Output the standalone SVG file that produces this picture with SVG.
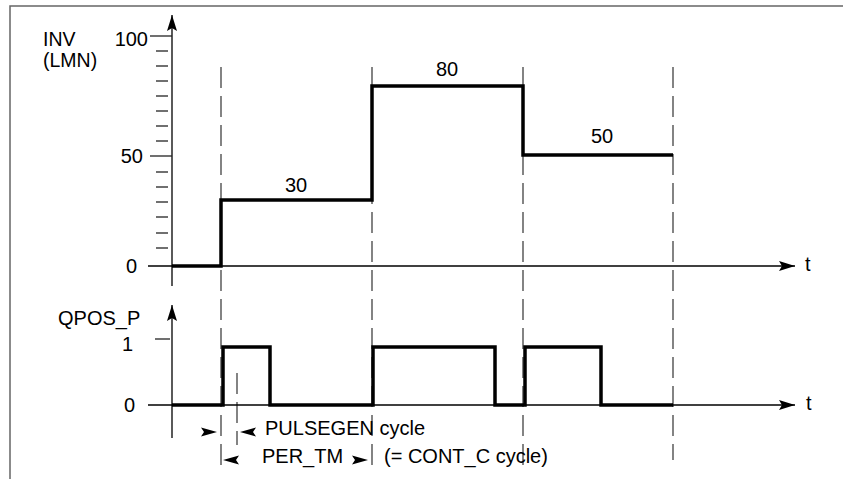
<svg xmlns="http://www.w3.org/2000/svg" width="843" height="479" viewBox="0 0 843 479">
<style>
text{font-family:"Liberation Sans",Arial,sans-serif;font-size:20px;fill:#000}
.axis{stroke:#000;stroke-width:1.3;fill:none}
.tick{stroke:#222;stroke-width:1.3;fill:none}
.dash{stroke:#333;stroke-width:1.2;stroke-dasharray:21 8;fill:none}
.sig{stroke:#000;stroke-width:3.5;fill:none;stroke-linejoin:miter}
.ah{fill:#000;stroke:none}
</style>
<defs>
<marker id="arr" markerUnits="userSpaceOnUse" markerWidth="20" markerHeight="12" refX="0" refY="0" orient="auto" overflow="visible">
<path d="M0,0 L-16,-5 L-13,0 L-16,5 Z" fill="#000"/>
</marker>
</defs>
<g id="frame">
<path d="M10,479 L10,6 L843,6" stroke="#666" stroke-width="1.5" fill="none"/>
</g>
<g id="connectors">
<line class="dash" x1="221" y1="67" x2="221" y2="467"/>
<line class="dash" x1="372" y1="67" x2="372" y2="467"/>
<line class="dash" x1="523" y1="67" x2="523" y2="465"/>
<line class="dash" x1="673" y1="67" x2="673" y2="460"/>
<line class="dash" x1="237" y1="373" x2="237" y2="445"/>
</g>
<g id="upper-chart">
<line class="axis" x1="172" y1="286" x2="172" y2="15" marker-end="url(#arr)"/>
<line class="axis" x1="148" y1="266" x2="795" y2="266" marker-end="url(#arr)"/>
<line class="tick" x1="150" y1="36" x2="172" y2="36"/>
<line class="tick" x1="150" y1="156" x2="172" y2="156"/>
<g class="tick">
<line x1="156" y1="51" x2="168" y2="51"/>
<line x1="156" y1="66" x2="168" y2="66"/>
<line x1="156" y1="81" x2="168" y2="81"/>
<line x1="156" y1="96" x2="168" y2="96"/>
<line x1="156" y1="111" x2="168" y2="111"/>
<line x1="156" y1="126" x2="168" y2="126"/>
<line x1="156" y1="141" x2="168" y2="141"/>
<line x1="156" y1="172" x2="168" y2="172"/>
<line x1="156" y1="187" x2="168" y2="187"/>
<line x1="156" y1="202" x2="168" y2="202"/>
<line x1="156" y1="217" x2="168" y2="217"/>
<line x1="156" y1="233" x2="168" y2="233"/>
<line x1="156" y1="248" x2="168" y2="248"/>
</g>
<path class="sig" d="M172,266 L221,266 L221,200 L372,200 L372,86 L523,86 L523,155 L673,155"/>
<text x="43" y="45.5" style="font-size:19.5px">INV</text>
<text x="43" y="67" style="font-size:19.5px">(LMN)</text>
<text x="148" y="46" text-anchor="end">100</text>
<text x="143" y="163" text-anchor="end">50</text>
<text x="137" y="273" text-anchor="end">0</text>
<text x="296" y="192" text-anchor="middle">30</text>
<text x="447" y="76" text-anchor="middle">80</text>
<text x="602" y="143" text-anchor="middle">50</text>
<text x="805" y="271">t</text>
</g>
<g id="lower-chart">
<line class="axis" x1="172" y1="438" x2="172" y2="305" marker-end="url(#arr)"/>
<line class="axis" x1="148" y1="405" x2="795" y2="405" marker-end="url(#arr)"/>
<line class="tick" x1="155" y1="339" x2="170" y2="339"/>
<path class="sig" d="M172,405 L223,405 L223,347 L270,347 L270,405 L373,405 L373,347 L495,347 L495,405 L525,405 L525,347 L601,347 L601,405 L673,405"/>
<text x="58" y="325">QPOS_P</text>
<text x="133" y="351" text-anchor="end">1</text>
<text x="135" y="412" text-anchor="end">0</text>
<text x="806" y="410">t</text>
</g>
<g id="annotations">
<path class="ah" d="M217,432 L201,427.5 L204,432 L201,436.5 Z"/>
<path class="ah" d="M240,432 L256,427.5 L253,432 L256,436.5 Z"/>
<path class="ah" d="M223,460 L239,455.5 L236,460 L239,464.5 Z"/>
<path class="ah" d="M368,460 L352,455.5 L355,460 L352,464.5 Z"/>
<text x="265" y="435">PULSEGEN cycle</text>
<text x="262" y="463">PER_TM</text>
<text x="384" y="463">(= CONT_C cycle)</text>
</g>
</svg>
